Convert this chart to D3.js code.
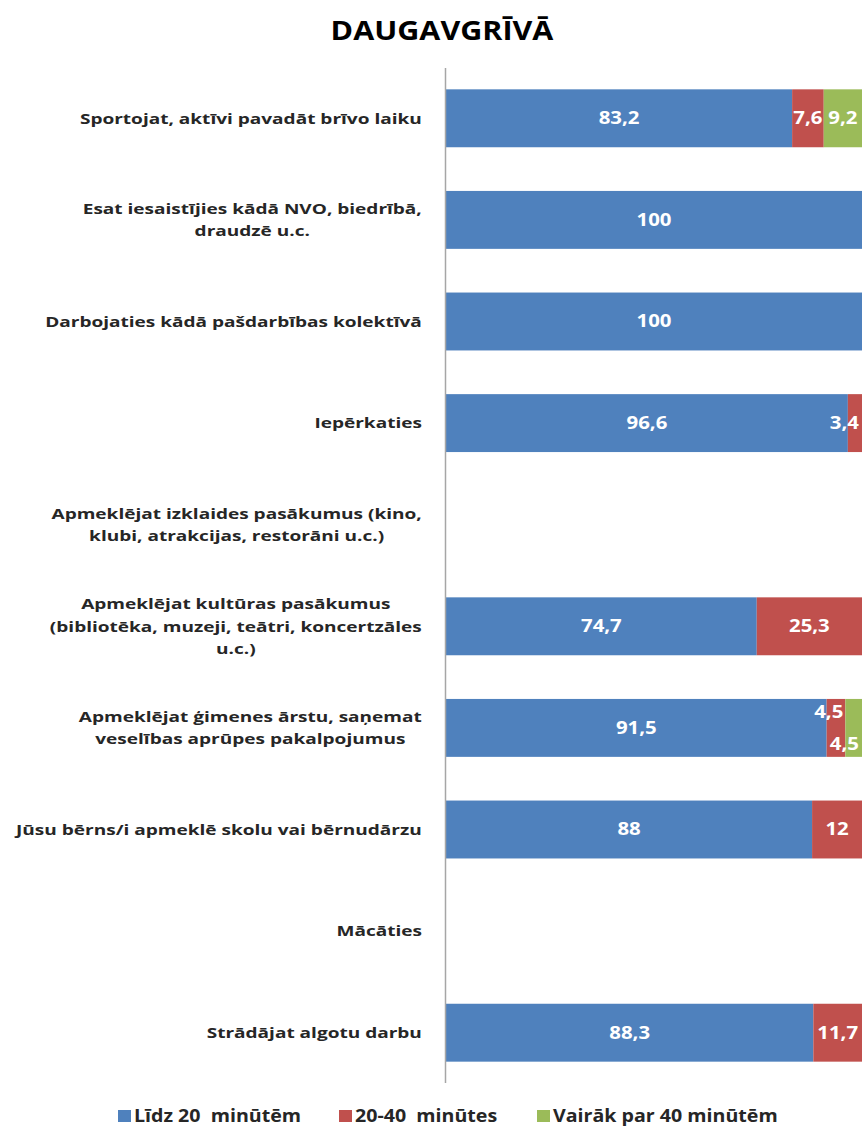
<!DOCTYPE html>
<html>
<head>
<meta charset="utf-8">
<script src="https://cdn.jsdelivr.net/npm/d3@7"></script>
<style>
  body { margin: 0; background: #fff; }
  svg text { font-family: "Open Sans", "DejaVu Sans", sans-serif; white-space: pre; }
</style>
</head>
<body>
<div id="chart"></div>
<script>
// Data.
const categories = [
  'Sportojat, aktīvi pavadāt brīvo laiku',
  'Esat iesaistījies kādā NVO, biedrībā,\ndraudzē u.c.',
  'Darbojaties kādā pašdarbības kolektīvā',
  'Iepērkaties',
  'Apmeklējat izklaides pasākumus (kino,\nklubi, atrakcijas, restorāni u.c.)',
  'Apmeklējat kultūras pasākumus\n(bibliotēka, muzeji, teātri, koncertzāles\nu.c.)',
  'Apmeklējat ģimenes ārstu, saņemat\nveselības aprūpes pakalpojumus',
  'Jūsu bērns/i apmeklē skolu vai bērnudārzu',
  'Mācāties',
  'Strādājat algotu darbu'
];
const upTo20 = [83.2, 100, 100, 96.6, 0, 74.7, 91.5, 88, 0, 88.3];
const from20to40 = [7.6, 0, 0, 3.4, 0, 25.3, 4.5, 12, 0, 11.7];
const over40 = [9.2, 0, 0, 0, 0, 0, 4.5, 0, 0, 0];
const seriesNames = ['Līdz 20  minūtēm', '20-40  minūtes', 'Vairāk par 40 minūtēm'];
const seriesColors = ['#4F81BD', '#C0504D', '#9BBB59'];
const titleText = 'DAUGAVGRĪVĀ';

// Dimensions.
const width = 862;
const height = 1127;
const plot = { left: 446, right: 862, top: 68, bottom: 1083 };

const svg = d3.select('#chart')
  .append('svg')
  .attr('width', width)
  .attr('height', height);

// Text in the original is horizontally stretched, so widen it with a scale.
function stretchText(sel, x, y, sx) {
  sel.attr('transform', `translate(${x},${y}) scale(${sx},1)`);
}

// Scales.
const xScale = d3.scaleLinear().domain([0, 100]).range([plot.left, plot.right]);
const yScale = d3.scaleBand()
  .domain(categories)
  .range([plot.top, plot.bottom])
  .paddingInner(0.43)
  .paddingOuter(0.21);

// Stack rows.
const rows = categories.map((c, i) => ({ cat: c, v: [upTo20[i], from20to40[i], over40[i]] }));
const segs = [];
rows.forEach(r => {
  let x0 = 0;
  r.v.forEach((v, k) => {
    if (v > 0) segs.push({ cat: r.cat, k: k, x0: x0, x1: x0 + v, v: v, row: r });
    x0 += v;
  });
});

// Title.
svg.append('text')
  .attr('text-anchor', 'middle')
  .style('font-size', '27px')
  .style('font-weight', 'bold')
  .style('fill', '#000')
  .text(titleText)
  .call(stretchText, 442, 40, 1.13);

// Bars.
svg.append('g')
  .selectAll('rect')
  .data(segs)
  .enter()
  .append('rect')
  .attr('x', d => xScale(d.x0))
  .attr('y', d => yScale(d.cat))
  .attr('width', d => xScale(d.x1) - xScale(d.x0))
  .attr('height', yScale.bandwidth())
  .style('fill', d => seriesColors[d.k]);

// Axis line.
svg.append('line')
  .attr('x1', xScale(0) - 0.5)
  .attr('x2', xScale(0) - 0.5)
  .attr('y1', plot.top)
  .attr('y2', plot.bottom)
  .style('stroke', '#a6a6a6')
  .style('stroke-width', 1.5);

// Value labels.
const valSx = 1.2;
svg.append('g')
  .selectAll('text')
  .data(segs)
  .enter()
  .append('text')
  .attr('text-anchor', 'middle')
  .attr('dy', '0.35em')
  .style('font-size', '17px')
  .style('font-weight', 'bold')
  .style('fill', '#fff')
  .text(d => String(d.v).replace('.', ','))
  .each(function(d) {
    const w = this.getComputedTextLength() * valSx;
    let cx = (xScale(d.x0) + xScale(d.x1)) / 2;
    if (cx + w / 2 > plot.right - 3) cx = plot.right - 3 - w / 2;
    let cy = yScale(d.cat) + yScale.bandwidth() / 2;
    // stagger two thin neighbouring segments
    const thin = d.row.v[1] > 0 && d.row.v[1] < 6 && d.row.v[2] > 0 && d.row.v[2] < 6;
    if (thin && d.k === 1) { cx = xScale(d.x1) - 2 - w / 2; cy -= 16; }
    if (thin && d.k === 2) cy += 16;
    if (!thin && d.k === 1 && xScale(d.x1) - xScale(d.x0) < w && d.row.v[2] > 0) cx = xScale(d.x1) - 6 - w / 2;
    d3.select(this).call(stretchText, cx, cy, valSx);
  });

// Category labels.
const labelRight = 422;
const labSx = 1.27;
const lineH = 22.5;
svg.append('g')
  .selectAll('text')
  .data(categories)
  .enter()
  .append('text')
  .style('font-size', '15px')
  .style('font-weight', 'bold')
  .style('fill', '#262626')
  .attr('text-anchor', 'middle')
  .each(function(c) {
    const el = d3.select(this);
    const lines = c.split('\n');
    const cy = yScale(c) + yScale.bandwidth() / 2;
    const spans = lines.map((t, i) => el.append('tspan')
      .attr('x', 0)
      .attr('y', (i - (lines.length - 1) / 2) * lineH)
      .attr('dy', '0.35em')
      .text(t));
    const maxW = d3.max(spans, s => s.node().getComputedTextLength()) * labSx;
    el.call(stretchText, labelRight - maxW / 2, cy, labSx);
  });

// Legend.
const legendX = [118, 339, 537];
const legend = svg.append('g').attr('transform', 'translate(0, 1122)');
seriesNames.forEach((n, i) => {
  legend.append('rect')
    .attr('x', legendX[i])
    .attr('y', -12)
    .attr('width', 13)
    .attr('height', 12)
    .style('fill', seriesColors[i]);
  legend.append('text')
    .style('font-size', '18px')
    .style('font-weight', 'bold')
    .style('fill', '#262626')
    .text(n)
    .call(stretchText, legendX[i] + 16, 0, 1.09);
});
</script>
</body>
</html>
